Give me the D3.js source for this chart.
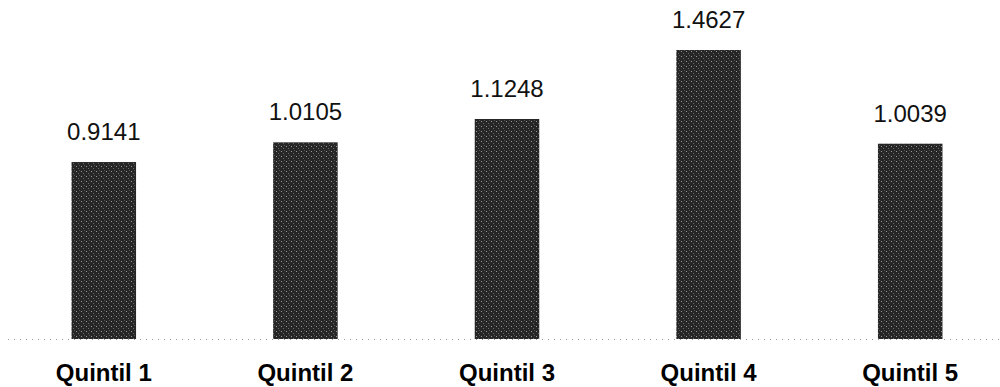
<!DOCTYPE html>
<html><head><meta charset="utf-8">
<script src="https://cdn.jsdelivr.net/npm/d3@7"></script>
<style>body{margin:0;background:#fff}</style>
</head><body>
<svg id="c" width="1000" height="387"></svg>
<script>
const categories = ["Quintil 1","Quintil 2","Quintil 3","Quintil 4","Quintil 5"];
const values = [0.9141, 1.0105, 1.1248, 1.4627, 1.0039];
const valueLabels = ["0.9141","1.0105","1.1248","1.4627","1.0039"];

const svg = d3.select("#c");
const x = d3.scaleBand().domain(categories).range([3, 1011]).paddingInner(0.68).paddingOuter(0.34);
const y = d3.scaleLinear().domain([0.0475, 1.4627]).range([339, 50]);

const defs = svg.append("defs");
const pat = defs.append("pattern").attr("id","tex").attr("width",5).attr("height",5).attr("patternUnits","userSpaceOnUse");
pat.append("rect").attr("width",5).attr("height",5).attr("fill","#262626");
pat.append("rect").attr("x",1).attr("y",1).attr("width",1).attr("height",1).attr("fill","#9a9a9a");
pat.append("rect").attr("x",3).attr("y",3).attr("width",1).attr("height",1).attr("fill","#6a6a6a");
pat.append("rect").attr("x",4).attr("y",0).attr("width",1).attr("height",1).attr("fill","#555");

svg.append("line").attr("x1",8).attr("x2",1000).attr("y1",339.5).attr("y2",339.5)
  .attr("stroke","#999").attr("stroke-width",1).attr("stroke-dasharray","1,5");

svg.selectAll("rect.bar").data(values).join("rect").attr("class","bar")
  .attr("x",(d,i)=>x(categories[i])).attr("width",x.bandwidth())
  .attr("y",d=>y(d)).attr("height",d=>339-y(d))
  .attr("fill","url(#tex)");

svg.selectAll("text.val").data(values).join("text").attr("class","val")
  .attr("x",(d,i)=>x(categories[i])+x.bandwidth()/2)
  .attr("y",d=>y(d)-22)
  .attr("text-anchor","middle")
  .attr("font-family","'Liberation Sans', Arial, sans-serif").attr("font-weight","normal")
  .attr("font-size",24).attr("fill","#111")
  .text((d,i)=>valueLabels[i]);

svg.selectAll("text.cat").data(categories).join("text").attr("class","cat")
  .attr("x",d=>x(d)+x.bandwidth()/2)
  .attr("y",381)
  .attr("text-anchor","middle")
  .attr("font-family","'Liberation Sans', Arial, sans-serif").attr("font-weight","bold")
  .attr("font-size",24).attr("fill","#000")
  .text(d=>d);
</script>
</body></html>
